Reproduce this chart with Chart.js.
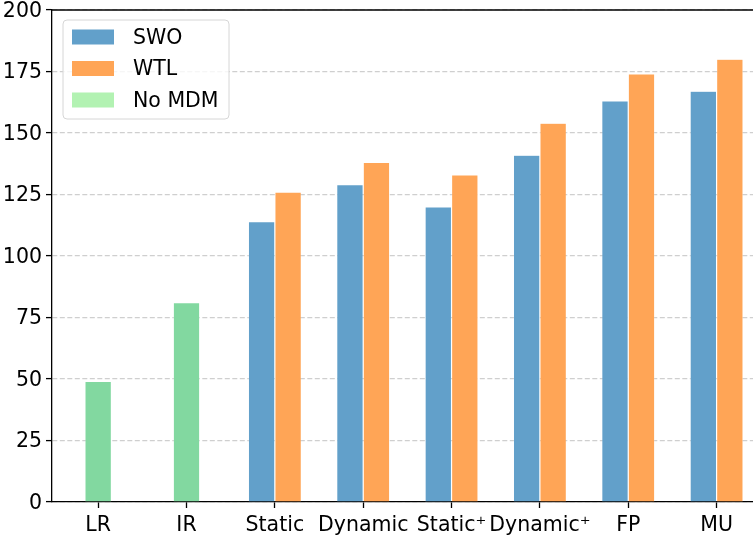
<!DOCTYPE html>
<html>
<head>
<meta charset="utf-8">
<script src="https://cdn.jsdelivr.net/npm/chart.js@4/dist/chart.umd.min.js"></script>
<style>
  html, body { margin: 0; padding: 0; background: #fff; overflow: hidden; }
  #chart { display: block; }
</style>
</head>
<body>
<canvas id="chart" width="776" height="539"></canvas>
<script>
// categories and values
var categories = ['LR', 'IR', 'Static', 'Dynamic', 'Static\u207A', 'Dynamic\u207A', 'FP', 'MU'];
var swoValues   = [null, null, 114, 129, 120, 141, 163, 167];
var wtlValues   = [null, null, 126, 138, 133, 154, 174, 180];
var noMdmValues = [49, 81, null, null, null, null, null, null];
var yTicks = [0, 25, 50, 75, 100, 125, 150, 175, 200];

var FONT = '"DejaVu Sans", sans-serif';
var FONT_SIZE = 20.5;

function toPoints(values) {
    var pts = [];
    values.forEach(function(v, i) {
        if (v !== null) pts.push({ x: i, y: v });
    });
    return pts;
}

// matplotlib style legend box drawn inside the plot area
var boxLegend = {
    id: 'boxLegend',
    afterDraw: function(chart) {
        var ctx = chart.ctx;
        var area = chart.chartArea;
        var x = area.left + 11, y = area.top + 10, w = 166, h = 99;
        ctx.save();
        ctx.beginPath();
        ctx.roundRect(x, y, w, h, 4);
        ctx.fillStyle = 'rgba(255,255,255,0.8)';
        ctx.fill();
        ctx.strokeStyle = '#d6d6d6';
        ctx.lineWidth = 1;
        ctx.stroke();
        ctx.font = FONT_SIZE + 'px ' + FONT;
        ctx.textBaseline = 'middle';
        ctx.textAlign = 'left';
        chart.data.datasets.forEach(function(ds, i) {
            var cy = y + 17 + i * 31.5;
            ctx.fillStyle = ds.legendColor;
            ctx.fillRect(x + 9, cy - 7.5, 42, 15);
            ctx.fillStyle = '#000';
            ctx.fillText(ds.label, x + 70, cy + 1.5);
        });
        ctx.restore();
    }
};

// top spine
var topSpine = {
    id: 'topSpine',
    afterDatasetsDraw: function(chart) {
        var ctx = chart.ctx;
        var area = chart.chartArea;
        ctx.save();
        ctx.strokeStyle = '#000';
        ctx.lineWidth = 1.3;
        ctx.beginPath();
        ctx.moveTo(area.left, area.top);
        ctx.lineTo(area.right, area.top);
        ctx.stroke();
        ctx.restore();
    }
};

new Chart(document.getElementById('chart'), {
    type: 'bar',
    data: {
        datasets: [{
            label: 'SWO',
            data: toPoints(swoValues),
            backgroundColor: '#62a0ca',
            legendColor: '#62a0ca',
            borderColor: 'rgba(255,255,255,0.35)',
            borderWidth: 0.6,
            categoryPercentage: 0.6,
            barPercentage: 1.0
        }, {
            label: 'WTL',
            data: toPoints(wtlValues),
            backgroundColor: '#ffa556',
            legendColor: '#ffa556',
            borderColor: 'rgba(255,255,255,0.35)',
            borderWidth: 0.6,
            categoryPercentage: 0.6,
            barPercentage: 1.0
        }, {
            label: 'No MDM',
            data: toPoints(noMdmValues),
            backgroundColor: '#82d8a0',
            legendColor: '#b2f2b2',
            borderColor: 'rgba(255,255,255,0.35)',
            borderWidth: 0.6,
            grouped: false,
            categoryPercentage: 1.0,
            barPercentage: 0.3
        }]
    },
    options: {
        responsive: false,
        animation: false,
        devicePixelRatio: 1,
        layout: { padding: { top: 10, left: 0, right: 0, bottom: 0 } },
        plugins: {
            legend: { display: false },
            tooltip: { enabled: false }
        },
        scales: {
            x: {
                type: 'linear',
                offset: false,
                min: -0.5225,
                max: 7.6725,
                afterBuildTicks: function(scale) {
                    scale.ticks = categories.map(function(c, i) { return { value: i }; });
                },
                afterFit: function(scale) {
                    scale.height = 37;
                    scale.paddingLeft = 0;
                    scale.paddingRight = 0;
                },
                ticks: {
                    autoSkip: false,
                    maxRotation: 0,
                    padding: 5,
                    color: '#000',
                    font: { family: FONT, size: FONT_SIZE },
                    callback: function(value, index) { return categories[index]; }
                },
                grid: {
                    offset: false,
                    drawOnChartArea: false,
                    drawTicks: true,
                    tickLength: 6,
                    tickColor: '#000',
                    tickWidth: 1.3
                },
                border: { display: true, color: '#000', width: 1.3 }
            },
            y: {
                min: 0,
                max: 200,
                afterBuildTicks: function(scale) {
                    scale.ticks = yTicks.map(function(v) { return { value: v }; });
                },
                afterFit: function(scale) {
                    scale.width = 52;
                    scale.paddingTop = 0;
                    scale.paddingBottom = 0;
                },
                ticks: {
                    padding: 4,
                    labelOffset: 1.5,
                    color: '#000',
                    font: { family: FONT, size: FONT_SIZE }
                },
                grid: {
                    color: '#cfcfcf',
                    lineWidth: 1.2,
                    drawTicks: true,
                    tickLength: 6,
                    tickColor: '#000',
                    tickWidth: 1.3,
                    tickBorderDash: []
                },
                border: { display: true, color: '#000', width: 1.3, dash: [5, 2.5] }
            }
        }
    },
    plugins: [boxLegend, topSpine]
});
</script>
</body>
</html>
